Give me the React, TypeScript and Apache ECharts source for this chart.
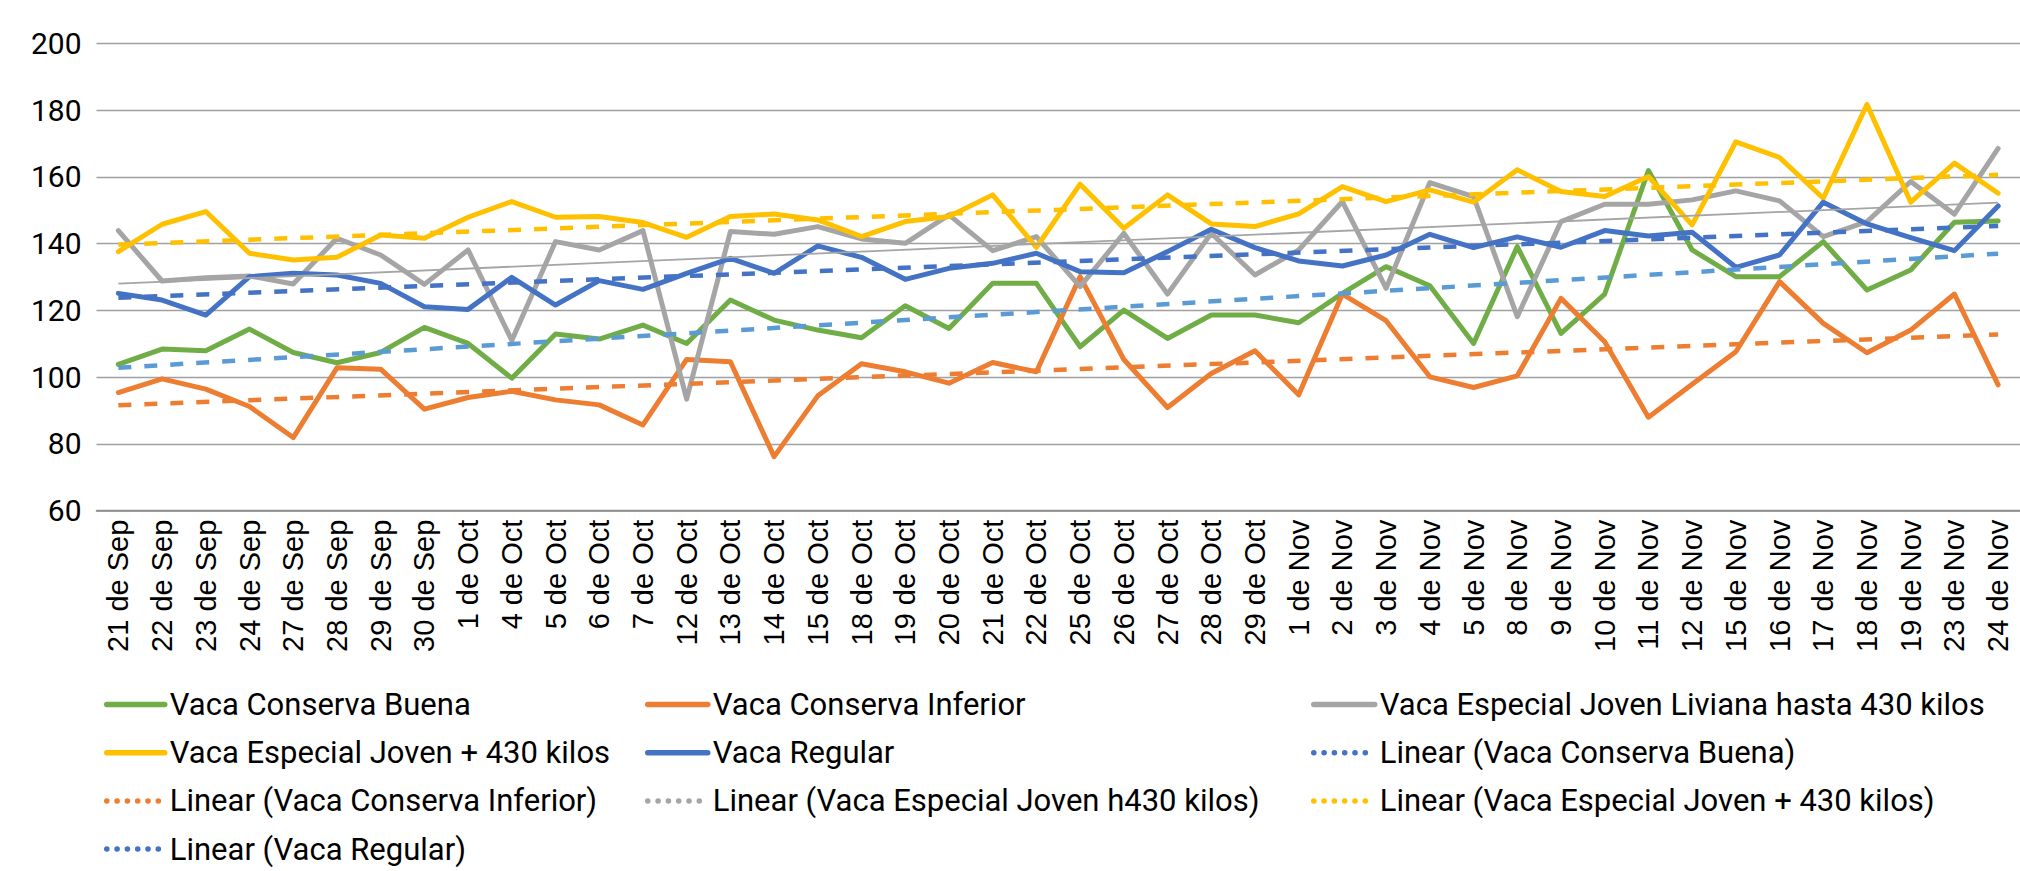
import React, { useEffect, useRef } from "react";
import * as echarts from "echarts";

const categories = [
  "21 de Sep", "22 de Sep", "23 de Sep", "24 de Sep", "27 de Sep", "28 de Sep", "29 de Sep", "30 de Sep",
  "1 de Oct", "4 de Oct", "5 de Oct", "6 de Oct", "7 de Oct", "12 de Oct", "13 de Oct", "14 de Oct",
  "15 de Oct", "18 de Oct", "19 de Oct", "20 de Oct", "21 de Oct", "22 de Oct", "25 de Oct", "26 de Oct",
  "27 de Oct", "28 de Oct", "29 de Oct", "1 de Nov", "2 de Nov", "3 de Nov", "4 de Nov", "5 de Nov",
  "8 de Nov", "9 de Nov", "10 de Nov", "11 de Nov", "12 de Nov", "15 de Nov", "16 de Nov", "17 de Nov",
  "18 de Nov", "19 de Nov", "23 de Nov", "24 de Nov",
];

const conservaBuena = [
  103.8, 108.4, 107.9, 114.4, 107.4, 104.3, 107.4, 114.9, 110.1, 99.7,
  112.9, 111.4, 115.6, 110.1, 123.1, 117.1, 114.1, 111.8, 121.4, 114.6, 128.1,
  128.1, 109.1, 120.1, 111.6, 118.6, 118.6, 116.3, 125.1, 133.1, 127.4, 110.1, 139.1,
  113.1, 124.9, 161.9, 138.1, 130.1, 130.1, 140.6, 126.1, 132.1, 146.4, 146.8,
];

const conservaInferior = [
  95.4, 99.5, 96.4, 91.2, 81.9, 102.8, 102.4, 90.4, 93.9, 95.8,
  93.2, 91.7, 85.7, 105.3, 104.6, 76.2, 94.4, 104.0, 101.6, 98.2, 104.4,
  101.6, 130.1, 105.3, 90.9, 101.1, 107.9, 94.7, 124.9, 116.9, 100.1, 96.9, 100.4,
  123.6, 110.6, 88.0, 97.9, 107.6, 128.6, 116.1, 107.3, 114.1, 124.9, 97.7,
];

const especialLiviana = [
  143.9, 128.8, 129.8, 130.3, 127.9, 141.6, 136.6, 127.8, 138.1, 111.0,
  140.6, 138.1, 143.9, 93.4, 143.6, 142.8, 145.1, 141.4, 140.1, 148.6, 137.9,
  142.1, 127.1, 143.1, 124.9, 143.1, 130.6, 138.1, 152.6, 126.6, 158.3, 154.1, 118.1,
  146.6, 151.8, 151.8, 153.1, 155.8, 152.8, 142.1, 146.6, 158.6, 148.8, 168.5,
];

const especialMas430 = [
  137.6, 145.8, 149.6, 137.1, 135.1, 135.9, 142.6, 141.6, 147.9, 152.6,
  147.9, 148.1, 146.3, 141.9, 148.1, 148.9, 147.1, 142.1, 146.6, 148.1, 154.6,
  138.9, 157.8, 144.6, 154.6, 145.9, 145.1, 148.9, 157.1, 152.6, 156.1, 152.4, 162.1,
  155.6, 154.1, 160.1, 145.6, 170.5, 165.8, 153.6, 181.7, 152.4, 164.1, 155.1,
];

const regular = [
  125.1, 123.1, 118.6, 130.1, 131.1, 130.6, 128.1, 121.1, 120.3, 129.9,
  121.6, 128.9, 126.3, 131.1, 135.6, 131.1, 139.3, 135.9, 129.3, 132.6, 134.1,
  137.1, 131.6, 131.3, 137.6, 144.3, 138.8, 134.8, 133.3, 136.6, 142.8, 138.8, 142.0,
  138.9, 143.9, 142.3, 143.4, 132.9, 136.6, 152.4, 145.9, 141.8, 137.9, 151.3,
];

// Trendline end values (first and last category)
const trendBuena = [102.8, 137.0];
const trendInferior = [91.6, 112.8];
const trendLiviana = [128.0, 152.3];
const trendMas430 = [139.7, 160.6];
const trendRegular = [123.8, 145.3];

const yTicks = { min: 60, max: 200, interval: 20 };

const GREEN = "#70AD47";
const ORANGE = "#ED7D31";
const GRAY = "#A5A5A5";
const YELLOW = "#FFC000";
const BLUE = "#4472C4";
const LIGHTBLUE = "#5B9BD5";

function trendData(ends: number[]) {
  const arr: (number | null)[] = categories.map(() => null);
  arr[0] = ends[0];
  arr[categories.length - 1] = ends[1];
  return arr;
}

function dataSeries(name: string, data: number[], color: string) {
  return {
    name,
    type: "line",
    data,
    symbol: "none",
    itemStyle: { color },
    lineStyle: { color, width: 5, join: "round", cap: "round" },
    z: 2,
  };
}

function trendSeries(name: string, ends: number[], color: string, solidThin = false) {
  return {
    name,
    type: "line",
    data: trendData(ends),
    connectNulls: true,
    symbol: "none",
    itemStyle: { color },
    lineStyle: solidThin
      ? { color, width: 1.8, type: "solid" }
      : { color, width: 4.5, type: [13, 13], cap: "butt" },
    z: 3,
  };
}

const N_BUENA = "Vaca Conserva Buena";
const N_INF = "Vaca Conserva Inferior";
const N_LIV = "Vaca Especial Joven Liviana hasta 430 kilos";
const N_MAS = "Vaca Especial Joven + 430 kilos";
const N_REG = "Vaca Regular";
const T_BUENA = "Linear (Vaca Conserva Buena)";
const T_INF = "Linear (Vaca Conserva Inferior)";
const T_LIV = "Linear (Vaca Especial Joven h430 kilos)";
const T_MAS = "Linear (Vaca Especial Joven + 430 kilos)";
const T_REG = "Linear (Vaca Regular)";

const HIDDEN_SYMBOL = { color: "rgba(0,0,0,0)", borderWidth: 0, opacity: 0 };

function lineItem(name: string, color: string) {
  return {
    name,
    itemStyle: HIDDEN_SYMBOL,
    lineStyle: { color, width: 5.5, cap: "round", type: "solid", opacity: 1 },
  };
}
function dotItem(name: string, color: string) {
  return {
    name,
    itemStyle: HIDDEN_SYMBOL,
    lineStyle: { color, width: 5.5, cap: "round", type: [0.1, 10.2], opacity: 1 },
  };
}

const legendBase = {
  orient: "vertical",
  top: 689,
  height: 200,
  padding: 0,
  itemHeight: 14,
  itemGap: 17.2,
  selectedMode: false,
  textStyle: { fontFamily: "Roboto", fontSize: 31, color: "#000", lineHeight: 28 },
};

export default function App() {
  const ref = useRef<HTMLDivElement>(null);
  useEffect(() => {
    const chart = echarts.init(ref.current!, null, { renderer: "svg" });
    chart.setOption({
      animation: false,
      backgroundColor: "#fff",
      grid: { left: 96.5, right: 0, top: 43.3, bottom: 360.3, containLabel: false },
      xAxis: {
        type: "category",
        data: categories,
        boundaryGap: true,
        axisLine: { show: true, lineStyle: { color: "#858585", width: 1.6 } },
        axisTick: { show: false },
        axisLabel: {
          interval: 0,
          rotate: 90,
          margin: 9,
          fontFamily: "Liberation Sans",
          fontSize: 29,
          color: "#000",
        },
        splitLine: { show: false },
      },
      yAxis: {
        type: "value",
        min: yTicks.min,
        max: yTicks.max,
        interval: yTicks.interval,
        axisLine: { show: false },
        axisTick: { show: false },
        axisLabel: { fontFamily: "Roboto", fontSize: 30, color: "#000", margin: 15 },
        splitLine: { show: true, lineStyle: { color: "#A0A0A0", width: 1.3 } },
      },
      legend: [
        {
          ...legendBase,
          left: 104,
          itemWidth: 58,
          data: [lineItem(N_BUENA, GREEN), lineItem(N_MAS, YELLOW), dotItem(T_INF, ORANGE), dotItem(T_REG, BLUE)],
        },
        {
          ...legendBase,
          left: 645,
          itemWidth: 60,
          data: [lineItem(N_INF, ORANGE), lineItem(N_REG, BLUE), dotItem(T_LIV, GRAY)],
        },
        {
          ...legendBase,
          left: 1311,
          itemWidth: 61,
          data: [lineItem(N_LIV, GRAY), dotItem(T_BUENA, BLUE), dotItem(T_MAS, YELLOW)],
        },
      ],
      series: [
        dataSeries(N_BUENA, conservaBuena, GREEN),
        dataSeries(N_INF, conservaInferior, ORANGE),
        dataSeries(N_LIV, especialLiviana, GRAY),
        dataSeries(N_MAS, especialMas430, YELLOW),
        dataSeries(N_REG, regular, BLUE),
        trendSeries(T_BUENA, trendBuena, LIGHTBLUE),
        trendSeries(T_INF, trendInferior, ORANGE),
        trendSeries(T_LIV, trendLiviana, GRAY, true),
        trendSeries(T_MAS, trendMas430, YELLOW),
        trendSeries(T_REG, trendRegular, BLUE),
      ],
    });
    return () => chart.dispose();
  }, []);
  return (
    <div
      ref={ref}
      style={{ position: "absolute", left: 0, top: 0, width: 2020, height: 871 }}
    />
  );
}
